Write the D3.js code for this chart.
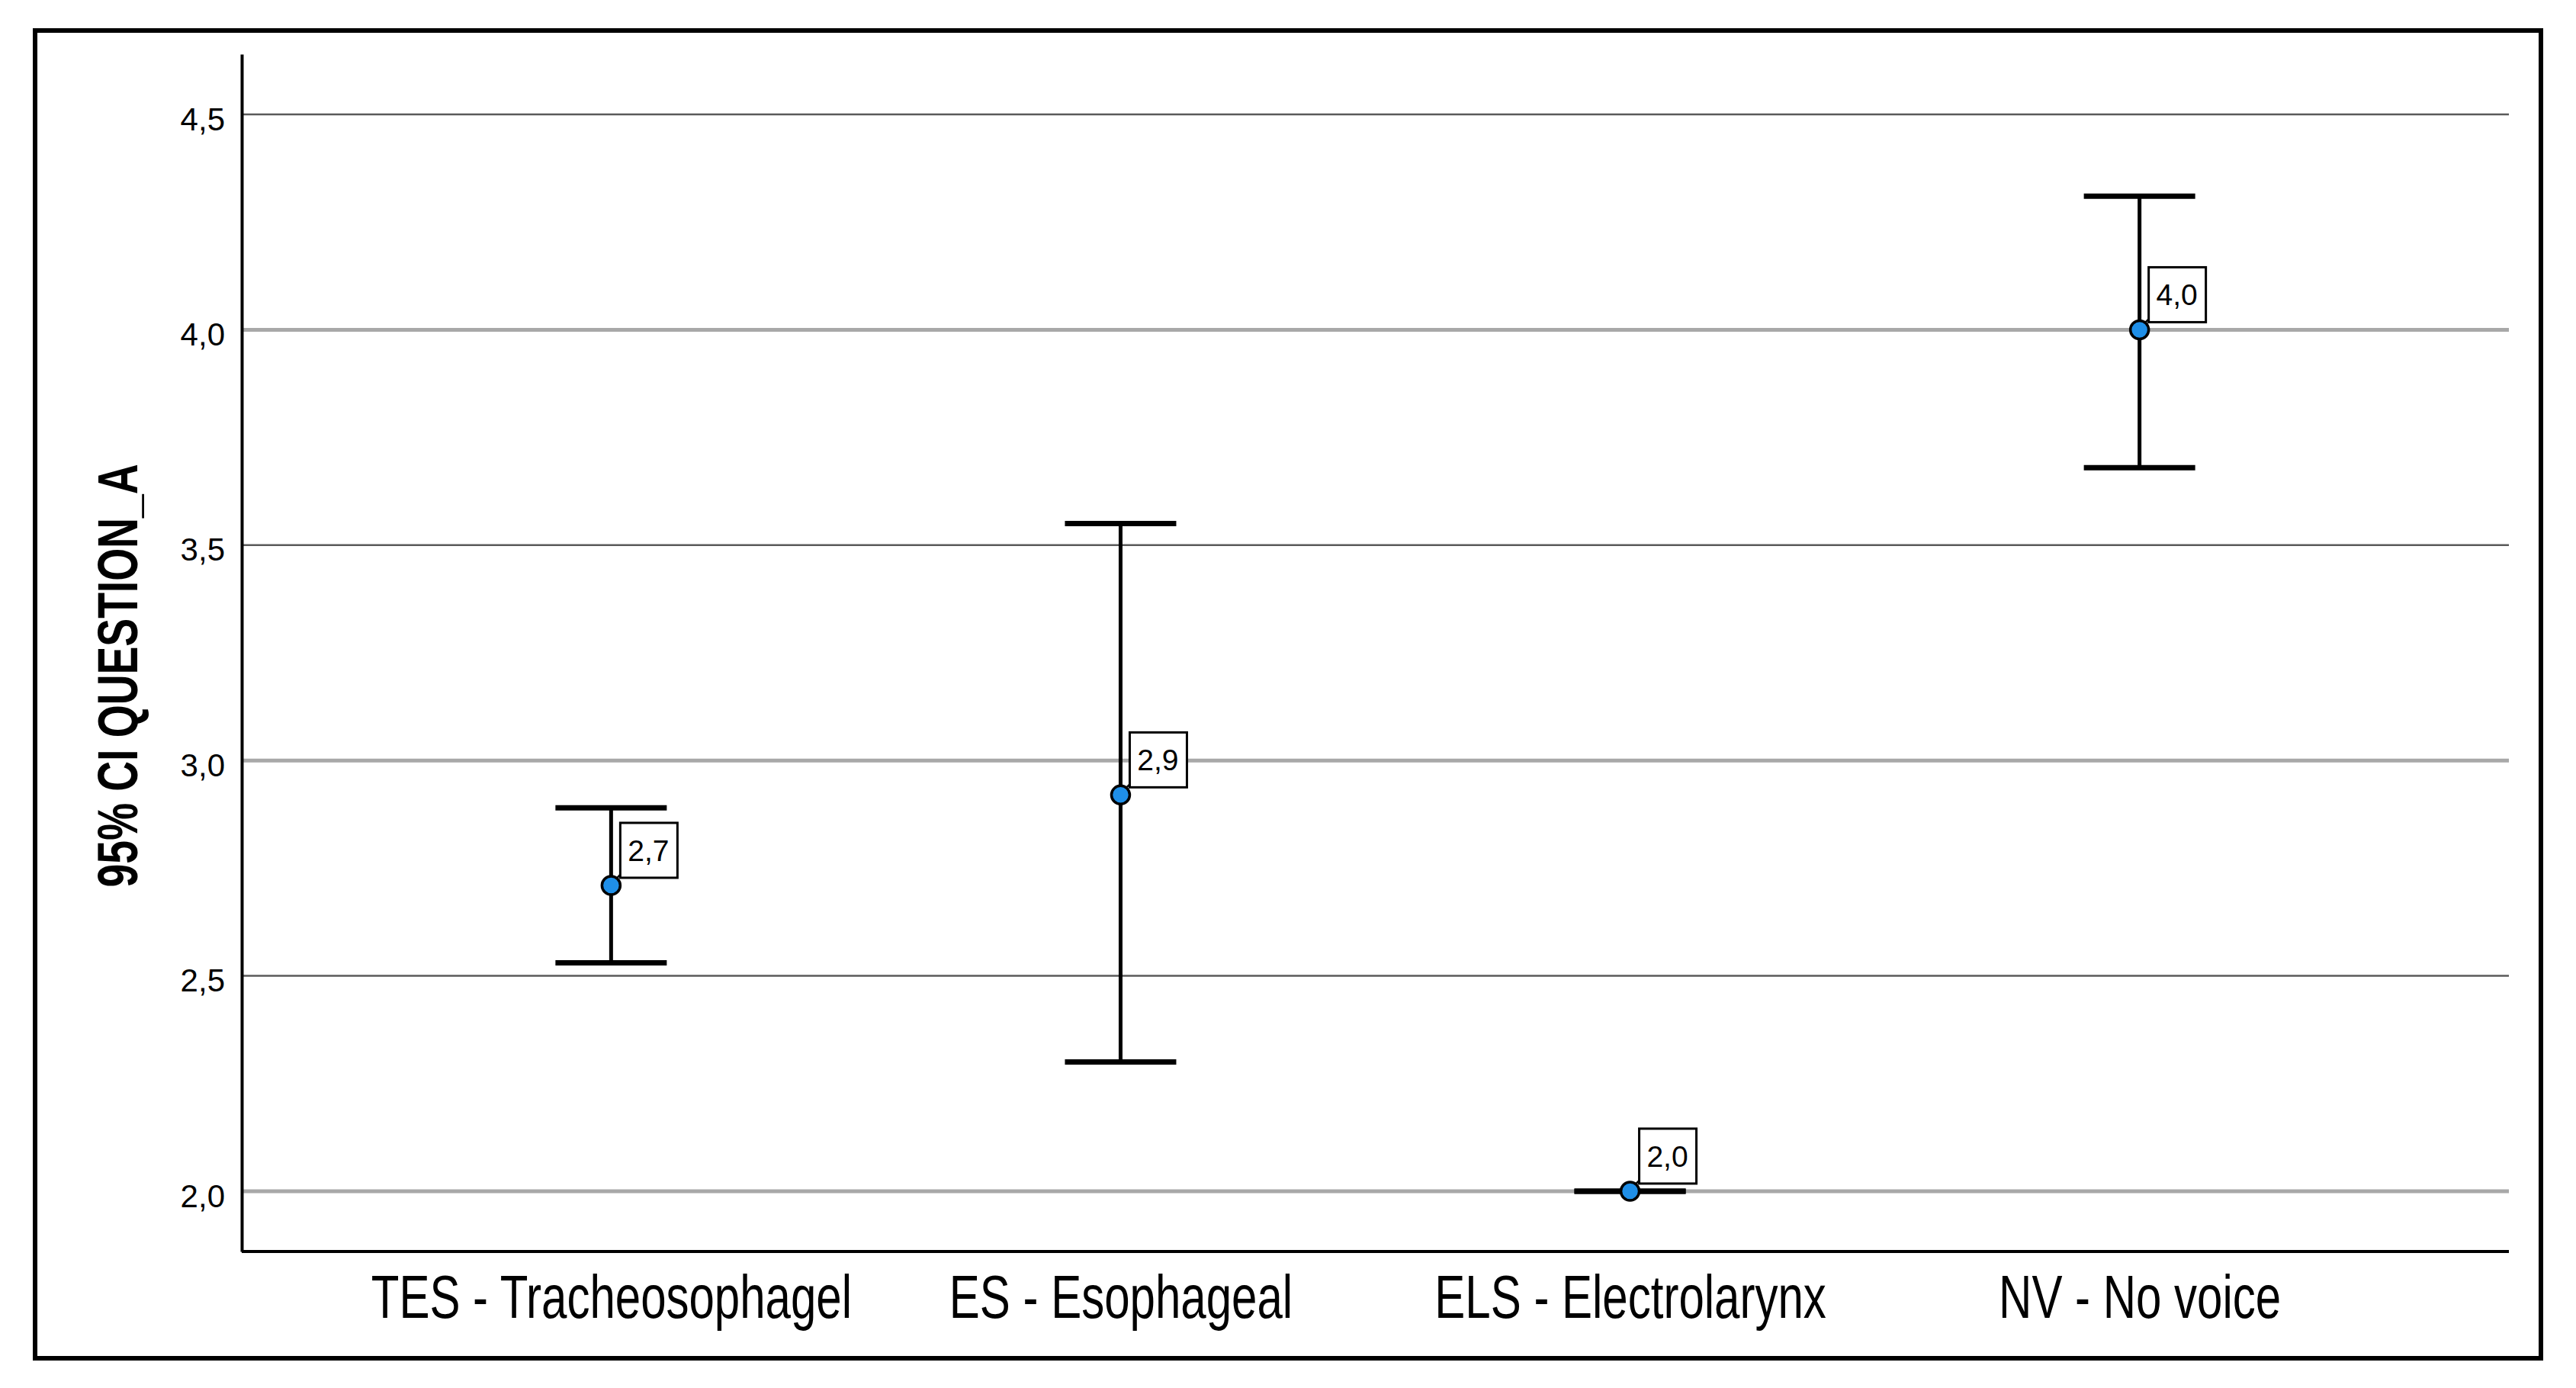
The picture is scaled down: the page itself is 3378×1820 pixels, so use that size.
<!DOCTYPE html>
<html>
<head>
<meta charset="utf-8">
<script src="https://cdn.jsdelivr.net/npm/d3@7"></script>
<style>
  body { margin: 0; background: #fff; }
  svg { display: block; }
</style>
</head>
<body>
<div id="chart"></div>
<script>
// Values
const categories = ['TES - Tracheosophagel', 'ES - Esophageal', 'ELS - Electrolarynx', 'NV - No voice'];
const means = [2.71, 2.92, 2.00, 4.00];
const lowerCI = [2.53, 2.30, 2.00, 3.68];
const upperCI = [2.89, 3.55, 2.00, 4.31];
const yTicks = [2.0, 2.5, 3.0, 3.5, 4.0, 4.5];
const yTitle = '95% CI QUESTION_A';

const width = 3378;
const height = 1820;
const margin = { top: 71, right: 88, bottom: 179, left: 317 };

const svg = d3.select('#chart')
    .append('svg')
    .attr('width', width)
    .attr('height', height);

// outer frame
svg.append('rect')
    .attr('x', 46).attr('y', 40)
    .attr('width', 3286).attr('height', 1741)
    .attr('fill', 'none')
    .attr('stroke', '#000')
    .attr('stroke-width', 6);

const x = d3.scalePoint()
    .domain(categories)
    .range([margin.left, width - margin.right])
    .padding(0.725);

const y = d3.scaleLinear()
    .domain([1.86, 4.64])
    .range([height - margin.bottom, margin.top]);

const comma = v => d3.format('.1f')(v).replace('.', ',');

// gridlines: alternating dark thin / light thick like the original
svg.append('g')
    .selectAll('line')
    .data(yTicks)
    .enter().append('line')
    .attr('x1', margin.left)
    .attr('x2', width - margin.right)
    .attr('y1', d => y(d))
    .attr('y2', d => y(d))
    .attr('stroke', (d, i) => i % 2 === 0 ? '#a8a8a8' : '#5a5a5a')
    .attr('stroke-width', (d, i) => i % 2 === 0 ? 5 : 2.5);

// Y axis
const yAxis = svg.append('g')
    .attr('transform', `translate(${margin.left},0)`)
    .call(d3.axisLeft(y).tickValues(yTicks).tickSize(0).tickPadding(22).tickFormat(comma));
yAxis.select('.domain').attr('stroke-width', 4).attr('stroke', '#000');
yAxis.selectAll('text')
    .attr('font-family', '"Liberation Sans", Arial, sans-serif')
    .attr('font-size', 42)
    .attr('fill', '#000')
    .attr('dy', '0.48em');

// X axis
const xAxis = svg.append('g')
    .attr('transform', `translate(0,${height - margin.bottom})`)
    .call(d3.axisBottom(x).tickSize(0).tickPadding(30));
xAxis.select('.domain')
    .attr('d', `M${margin.left},0H${width - margin.right}`)
    .attr('stroke-width', 4).attr('stroke', '#000');
xAxis.selectAll('text')
    .attr('font-family', '"Liberation Sans", Arial, sans-serif')
    .attr('font-size', 80)
    .attr('fill', '#000')
    .attr('transform', 'scale(0.75,1)');

// Y title
svg.append('text')
    .attr('transform', `translate(180,${(margin.top + height - margin.bottom) / 2 + 30}) rotate(-90)`)
    .attr('text-anchor', 'middle')
    .attr('font-family', '"Liberation Sans", Arial, sans-serif')
    .attr('font-weight', 'bold')
    .attr('font-size', 74)
    .attr('textLength', 555)
    .attr('lengthAdjust', 'spacingAndGlyphs')
    .text(yTitle);

const rows = categories.map((c, i) => ({ cat: c, mean: means[i], lo: lowerCI[i], hi: upperCI[i] }));
const capHalf = 73;

const bars = svg.append('g').selectAll('g')
    .data(rows)
    .enter().append('g');

// vertical whisker
bars.append('line')
    .attr('x1', d => x(d.cat)).attr('x2', d => x(d.cat))
    .attr('y1', d => y(d.hi)).attr('y2', d => y(d.lo))
    .attr('stroke', '#000').attr('stroke-width', 5);

// caps
bars.selectAll('.cap')
    .data(d => [{ c: d.cat, v: d.hi }, { c: d.cat, v: d.lo }])
    .enter().append('line')
    .attr('class', 'cap')
    .attr('x1', d => x(d.c) - capHalf).attr('x2', d => x(d.c) + capHalf)
    .attr('y1', d => y(d.v)).attr('y2', d => y(d.v))
    .attr('stroke', '#000').attr('stroke-width', 7);

// leader line to label
bars.append('line')
    .attr('x1', d => x(d.cat) + 6).attr('y1', d => y(d.mean) - 8)
    .attr('x2', d => x(d.cat) + 14).attr('y2', d => y(d.mean) - 16)
    .attr('stroke', '#000').attr('stroke-width', 2.5);

// mean marker
bars.append('circle')
    .attr('cx', d => x(d.cat))
    .attr('cy', d => y(d.mean))
    .attr('r', 12)
    .attr('fill', '#1f8fe8')
    .attr('stroke', '#000')
    .attr('stroke-width', 3.5);

// value label boxes
bars.append('rect')
    .attr('x', d => x(d.cat) + 12)
    .attr('y', d => y(d.mean) - 82)
    .attr('width', 75)
    .attr('height', 72)
    .attr('fill', '#fff')
    .attr('stroke', '#000')
    .attr('stroke-width', 3);

bars.append('text')
    .attr('x', d => x(d.cat) + 49)
    .attr('y', d => y(d.mean) - 32)
    .attr('text-anchor', 'middle')
    .attr('font-family', '"Liberation Sans", Arial, sans-serif')
    .attr('font-size', 39)
    .attr('fill', '#000')
    .text(d => comma(d.mean));
</script>
</body>
</html>
